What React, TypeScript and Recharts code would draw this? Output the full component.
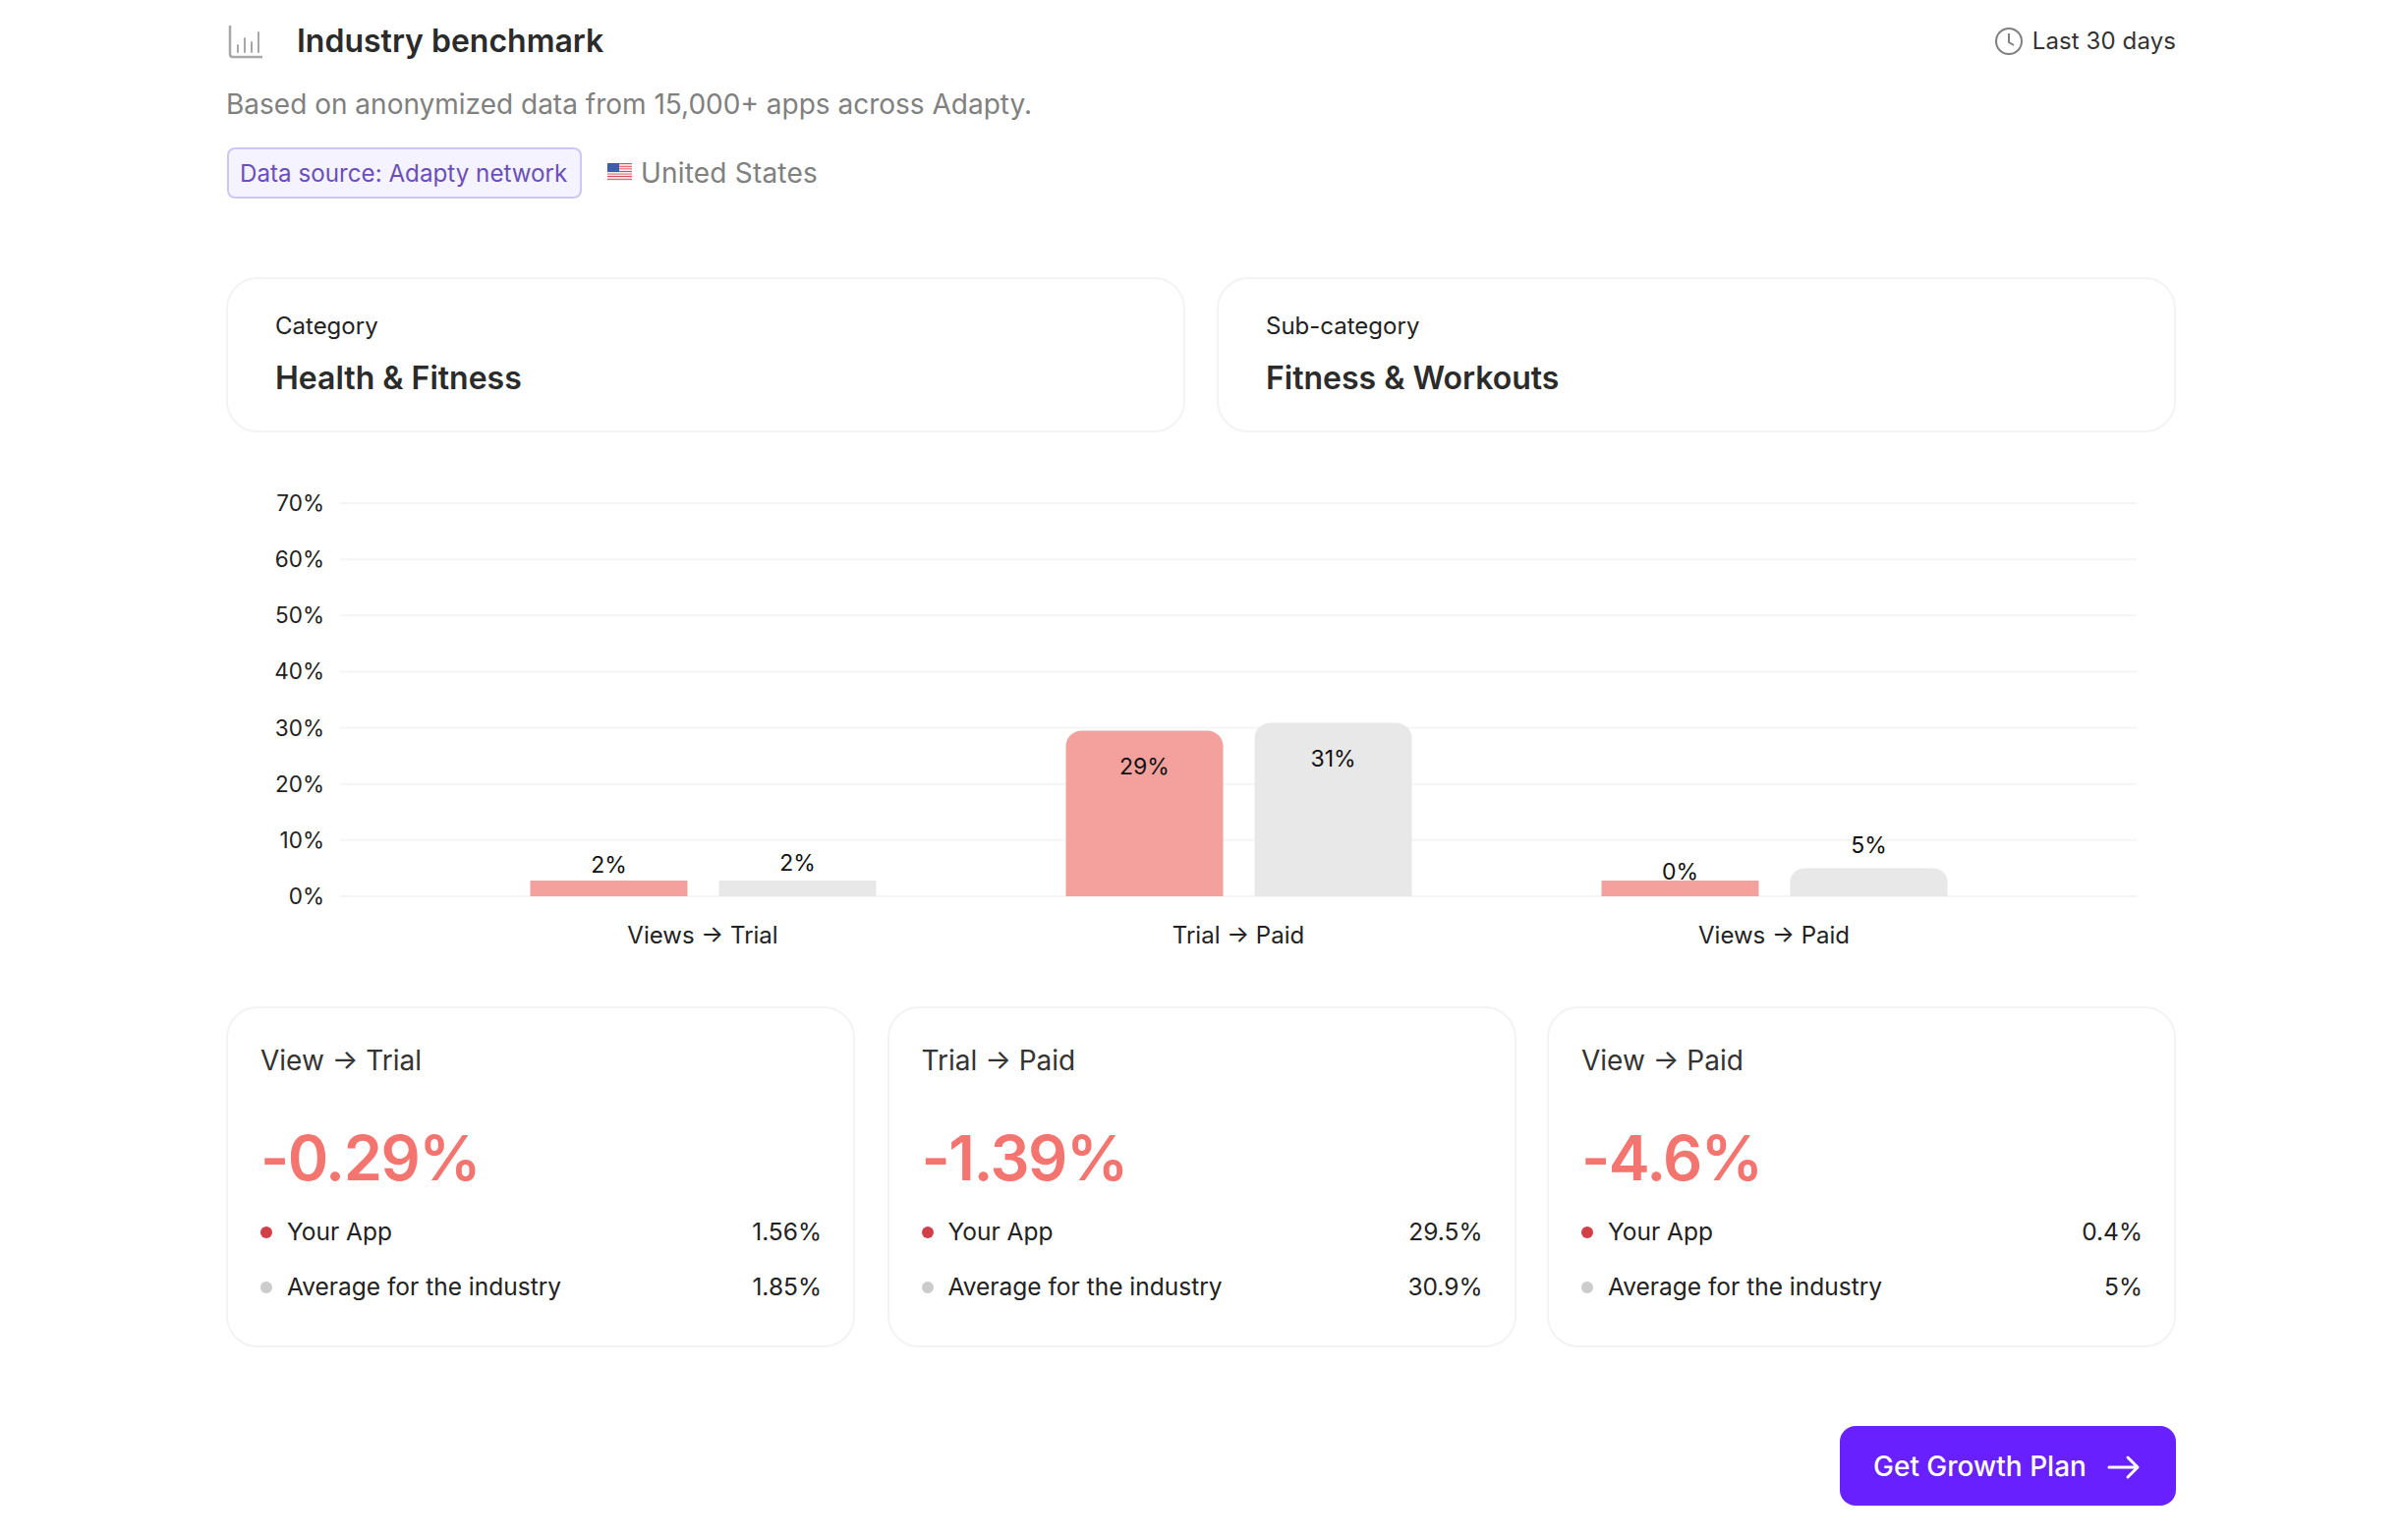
import React from "react";
import { BarChart, Bar, XAxis, YAxis, CartesianGrid, LabelList, Rectangle } from "recharts";

const categories = ["Views → Trial", "Trial → Paid", "Views → Paid"];
const yourApp = [1.56, 29.5, 0.4];
const industry = [1.85, 30.9, 5];
const yourAppLabels = ["2%", "29%", "0%"];
const industryLabels = ["2%", "31%", "5%"];
const yTicks = [0, 10, 20, 30, 40, 50, 60, 70];

const cardTitles = ["View → Trial", "Trial → Paid", "View → Paid"];
const cardDeltas = ["-0.29%", "-1.39%", "-4.6%"];
const cardApp = ["1.56%", "29.5%", "0.4%"];
const cardIndustry = ["1.85%", "30.9%", "5%"];

const chartData = categories.map((name, i) => ({ name, yourApp: yourApp[i], industry: industry[i] }));

const FONT = "Inter, sans-serif";
const PLOT_H = 400;
const Y_MAX = 70;

const T: React.FC<{ x: number; y: number; s: number; c: string; w?: number; right?: boolean; ls?: number; children: React.ReactNode }> = ({ x, y, s, c, w = 400, right, ls = 0, children }) => (
  <div
    style={{
      position: "absolute",
      top: y,
      left: right ? undefined : x,
      right: right ? 2444 - x : undefined,
      transform: "translateY(-50%)",
      fontSize: s,
      color: c,
      fontWeight: w,
      letterSpacing: ls,
      whiteSpace: "nowrap",
      lineHeight: 1.2,
    }}
  >
    {children}
  </div>
);

const Box: React.FC<{ x: number; y: number; w: number; h: number }> = ({ x, y, w, h }) => (
  <div
    style={{
      position: "absolute",
      left: x,
      top: y,
      width: w,
      height: h,
      boxSizing: "border-box",
      border: "2px solid #F3F3F3",
      borderRadius: 32,
      background: "#fff",
    }}
  />
);

const barShape = (fill: string) => (p: any) => {
  const small = p.height <= 16.5;
  return <Rectangle x={p.x} y={p.y} width={p.width} height={p.height} fill={fill} radius={small ? 0 : [16, 16, 0, 0]} />;
};

const barLabel = (values: number[], texts: string[]) => (p: any) => {
  const vb = p.viewBox ?? p;
  const i = p.index;
  const v = values[i];
  const base = vb.y + vb.height;
  const top = base - (v * PLOT_H) / Y_MAX;
  const cy = v > 10 ? top + 36.5 : top - 23;
  return (
    <text x={vb.x + vb.width / 2} y={cy} textAnchor="middle" dominantBaseline="central" fontSize={23} fontFamily={FONT} fill="#111">
      {texts[i]}
    </text>
  );
};

const Flag = () => (
  <svg style={{ position: "absolute", left: 618, top: 166 }} width={25} height={18} viewBox="0 0 25 18">
    {[0, 1, 2, 3, 4, 5, 6].map((k) => (
      <rect key={k} x={0} y={k * 2.6} width={25} height={1.3} fill="#D9505F" />
    ))}
    {[0, 1, 2, 3, 4, 5, 6].map((k) => (
      <rect key={"w" + k} x={0} y={k * 2.6 + 1.3} width={25} height={1.3} fill="#F2E6E6" />
    ))}
    <rect x={0} y={0} width={12} height={9} fill="#3D5FA8" />
  </svg>
);

export default function App() {
  const cardXs = [230, 902.5, 1574];
  return (
    <div style={{ position: "absolute", left: 0, top: 0, width: 2444, height: 1567, background: "#fff", fontFamily: FONT, overflow: "hidden" }}>
      {/* header */}
      <svg style={{ position: "absolute", left: 232, top: 25 }} width={36} height={36} viewBox="0 0 36 36" fill="none" stroke="#A8A8A8" strokeWidth={2}>
        <path d="M2 1 V30 Q2 33 5 33 H35" strokeWidth={2.5} />
        <path d="M10 28 V21 M17 28 V14 M24 28 V18 M31 28 V8" strokeLinecap="round" />
      </svg>
      <T x={302} y={42} s={32} c="#2B2B2B" w={600}>Industry benchmark</T>
      <svg style={{ position: "absolute", left: 2029, top: 27 }} width={30} height={30} viewBox="0 0 30 30" fill="none" stroke="#808080" strokeWidth={2}>
        <circle cx={15} cy={15} r={13} />
        <path d="M15 7 V16 L20 19" />
      </svg>
      <T x={2214} y={42} s={24} c="#333" right ls={0.1}>Last 30 days</T>
      <T x={230} y={107} s={28} c="#808080">Based on anonymized data from 15,000+ apps across Adapty.</T>

      <div
        style={{
          position: "absolute",
          left: 230.5,
          top: 150,
          width: 361,
          height: 52,
          boxSizing: "border-box",
          background: "#F5F3FF",
          border: "2px solid #CFC6F5",
          borderRadius: 8,
        }}
      />
      <T x={244} y={176.5} s={24.2} c="#6A4FBA">Data source: Adapty network</T>
      <Flag />
      <T x={652} y={177} s={28} c="#808080" ls={0.2}>United States</T>

      {/* category cards */}
      <Box x={230} y={282} w={976} h={158} />
      <Box x={1238} y={282} w={976} h={158} />
      <T x={280} y={332} s={24} c="#222">Category</T>
      <T x={280} y={384.5} s={32} c="#2B2B2B" w={600}>Health &amp; Fitness</T>
      <T x={1288} y={332} s={24} c="#222">Sub-category</T>
      <T x={1288} y={384.5} s={32} c="#2B2B2B" w={600}>Fitness &amp; Workouts</T>

      {/* chart */}
      <div style={{ position: "absolute", left: 240, top: 490, width: 1960, height: 500 }}>
        <BarChart width={1960} height={500} data={chartData} barSize={160} barGap={32} margin={{ top: 22, right: 26, bottom: 18, left: 0 }}>
          <CartesianGrid horizontal vertical={false} stroke="#F5F5F5" strokeWidth={2} />
          <XAxis
            dataKey="name"
            axisLine={false}
            tickLine={false}
            height={60}
            interval={0}
            padding={{ left: 96.5, right: 96.5 }}
            tick={{ fontSize: 24, fontFamily: FONT, fill: "#222" }}
            tickMargin={25}
          />
          <YAxis
            width={106}
            domain={[0, Y_MAX]}
            ticks={yTicks}
            axisLine={false}
            tickLine={false}
            tickFormatter={(v: number) => `${v}%`}
            tick={{ fontSize: 22.5, fontFamily: FONT, fill: "#222" }}
            tickMargin={10}
          />
          <Bar dataKey="yourApp" fill="#F4A19D" minPointSize={16} isAnimationActive={false} shape={barShape("#F4A19D")}>
            <LabelList dataKey="yourApp" content={barLabel(yourApp, yourAppLabels)} />
          </Bar>
          <Bar dataKey="industry" fill="#E8E8E8" minPointSize={16} isAnimationActive={false} shape={barShape("#E8E8E8")}>
            <LabelList dataKey="industry" content={barLabel(industry, industryLabels)} />
          </Bar>
        </BarChart>
      </div>

      {/* metric cards */}
      {cardXs.map((x, i) => (
        <React.Fragment key={i}>
          <Box x={x} y={1024} w={640} h={347} />
          <T x={x + 35} y={1079.5} s={28} c="#333">{cardTitles[i]}</T>
          <T x={x + 35} y={1178.5} s={63} c="#F4756F" w={600} ls={-1.5}>{cardDeltas[i]}</T>
          <div style={{ position: "absolute", left: x + 35, top: 1248, width: 12, height: 12, borderRadius: 6, background: "#D13F48" }} />
          <T x={x + 62} y={1254} s={24.5} c="#222">Your App</T>
          <T x={x + 606} y={1254} s={24.5} c="#222" right>{cardApp[i]}</T>
          <div style={{ position: "absolute", left: x + 35, top: 1304, width: 12, height: 12, borderRadius: 6, background: "#CCCCCC" }} />
          <T x={x + 62} y={1310} s={24.5} c="#222">Average for the industry</T>
          <T x={x + 606} y={1310} s={24.5} c="#222" right>{cardIndustry[i]}</T>
        </React.Fragment>
      ))}

      {/* button */}
      <div style={{ position: "absolute", left: 1872, top: 1451, width: 342, height: 81, borderRadius: 16, background: "#6820FF" }} />
      <T x={1906} y={1493} s={28} c="#fff" w={500}>Get Growth Plan</T>
      <svg style={{ position: "absolute", left: 2144, top: 1480 }} width={34} height={26} viewBox="0 0 34 26" fill="none" stroke="#fff" strokeWidth={3} strokeLinecap="round" strokeLinejoin="round">
        <path d="M2 13 H31 M21 3 L31 13 L21 23" />
      </svg>
    </div>
  );
}
